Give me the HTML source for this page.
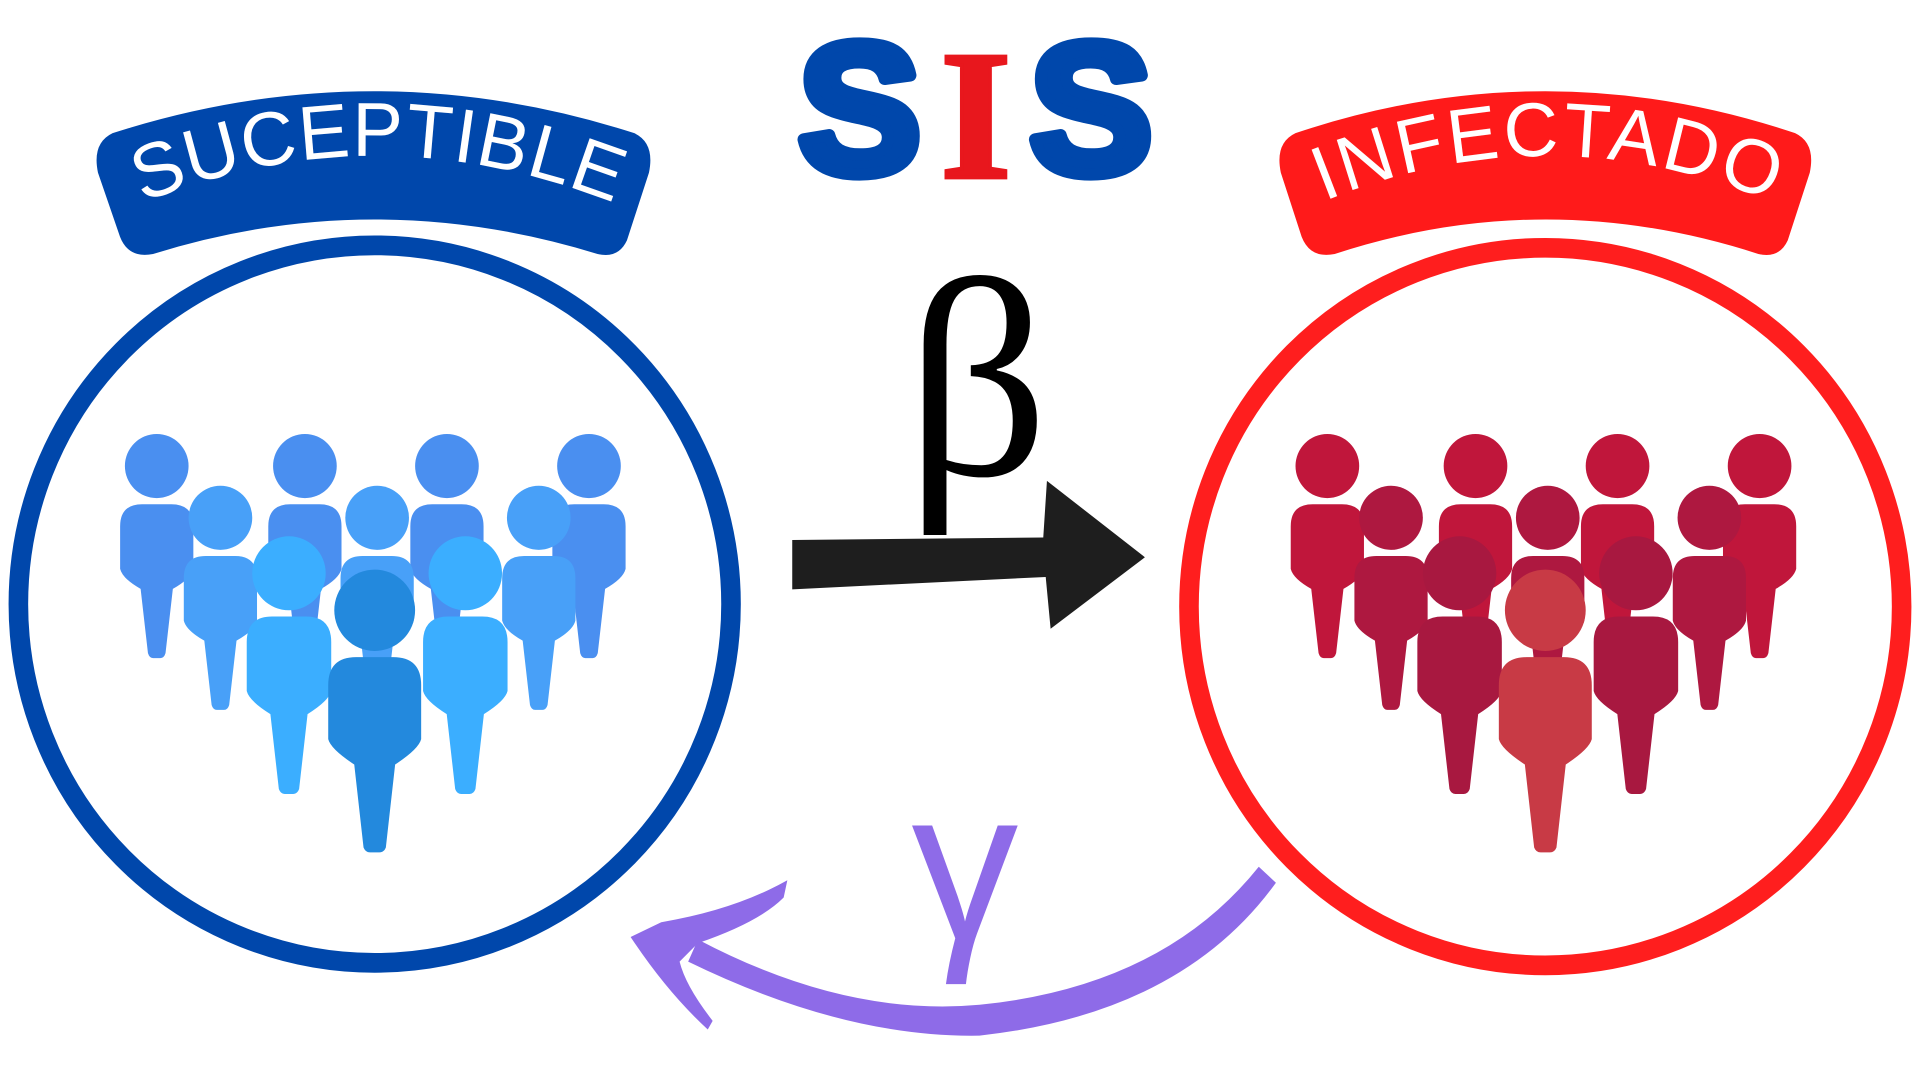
<!DOCTYPE html>
<html><head><meta charset="utf-8"><style>
html,body{margin:0;padding:0;background:#fff;width:1920px;height:1080px;overflow:hidden}
svg{display:block}
</style></head><body>
<svg id="root" width="1920" height="1080" viewBox="0 0 1568 876" preserveAspectRatio="none" xmlns="http://www.w3.org/2000/svg">
<defs>
<path id="arcL" d="M108,168 Q305,85 510,168"/>
<path id="arcR" d="M1070,168 Q1262,85 1458,168"/>
</defs>
<rect width="1568" height="876" fill="#fff"/>
<g font-family="'Liberation Sans',sans-serif" font-weight="900" font-size="150">
<text x="702" y="140" text-anchor="middle" fill="#0047AB" stroke="#0047AB" stroke-width="10" stroke-linejoin="round">S</text>
<text x="797" y="144" text-anchor="middle" fill="#E8171D" font-family="'Liberation Serif',serif" stroke="#E8171D" stroke-width="3">I</text>
<text x="891" y="140" text-anchor="middle" fill="#0047AB" stroke="#0047AB" stroke-width="10" stroke-linejoin="round">S</text>
</g>
<g>
<path d="M92,108 Q305,40 518,108 Q535,116 530,140 L512,195 Q505,210 488,206 Q305,150 125,206 Q105,210 98,192 L80,140 Q75,116 92,108Z" fill="#0047AB"/>
<text font-family="'Liberation Sans',sans-serif" font-size="62" fill="#fff"><textPath href="#arcL" startOffset="50%" text-anchor="middle" textLength="395">SUCEPTIBLE</textPath></text>
</g>
<g>
<path d="M1058,108 Q1262,40 1466,108 Q1483,116 1478,140 L1460,195 Q1453,210 1436,206 Q1262,150 1090,206 Q1070,210 1063,192 L1046,140 Q1041,116 1058,108Z" fill="#FF1A1A"/>
<text font-family="'Liberation Sans',sans-serif" font-size="62" fill="#fff"><textPath href="#arcR" startOffset="50%" text-anchor="middle" textLength="375">INFECTADO</textPath></text>
</g>
<circle cx="306" cy="490" r="291" fill="none" stroke="#0047AB" stroke-width="16"/>
<circle cx="1262" cy="492" r="291" fill="none" stroke="#FF1E1E" stroke-width="16"/>
<g id="peopleS"></g>
<g id="peopleI"></g>
<text x="798" y="385" text-anchor="middle" font-family="'Liberation Serif',serif" font-size="230" fill="#000">β</text>
<path d="M647,438 L852,436 L855,390 L935,452 L858,510 L854,468 L647,478Z" fill="#1E1E1E"/>
<text x="788" y="762" text-anchor="middle" font-family="'Liberation Sans',sans-serif" font-size="175" fill="#8E6BE8">γ</text>
<g fill="#8E6BE8">
<path d="M1028,703 Q950,800 800,815 Q690,825 570,762 L562,780 Q690,842 800,840 Q965,822 1042,716Z"/>
<path d="M643,714 Q600,738 540,748 L515,760 Q545,805 578,835 L582,828 Q560,800 555,780 L570,765 Q620,748 640,728Z"/>
</g>
</svg>
<script>
var headX=[128,249,365,481,180,308,440,236,380,306];
var headY=[378,378,378,378,420,420,420,465,465,495];
var rows=[0,0,0,0,1,1,1,2,2,3];
var colS=['#4A8FF0','#48A0F8','#3BAEFF','#2389DD'];
var colI=['#C0163B','#AE1840','#A81840','#C83A45'];
var NS='http://www.w3.org/2000/svg';
function person(g,cx,cy,r,col,dx){
  var x=cx+dx, w=r*2.3, top=cy+r+5, h=r*4.8;
  var b=document.createElementNS(NS,'path');
  var l=x-w/2, rr=x+w/2, k=w*0.3;
  var mid=top+h*0.42, low=top+h*0.55, bot=top+h;
  b.setAttribute('d','M'+(l+k)+','+top+' L'+(rr-k)+','+top+' Q'+rr+','+top+' '+rr+','+(top+k)+' L'+rr+','+mid+' Q'+(rr-2)+','+(mid+8)+' '+(x+w*0.22)+','+low+' L'+(x+w*0.12)+','+(bot-4)+' Q'+(x+w*0.1)+','+bot+' '+(x+w*0.05)+','+bot+' L'+(x-w*0.05)+','+bot+' Q'+(x-w*0.1)+','+bot+' '+(x-w*0.12)+','+(bot-4)+' L'+(x-w*0.22)+','+low+' Q'+(l+2)+','+(mid+8)+' '+l+','+mid+' L'+l+','+(top+k)+' Q'+l+','+top+' '+(l+k)+','+top+'Z');
  b.setAttribute('fill',col);
  
  
  g.appendChild(b);
  var c=document.createElementNS(NS,'circle');
  c.setAttribute('cx',x);c.setAttribute('cy',cy);c.setAttribute('r',r);c.setAttribute('fill',col);
  
  
  g.appendChild(c);
}
var gS=document.getElementById('peopleS'), gI=document.getElementById('peopleI');
for(var i=0;i<headX.length;i++){
  var r=rows[i]===3?33:(rows[i]===2?30:26);
  person(gS,headX[i],headY[i],r,colS[rows[i]],0);
  person(gI,headX[i],headY[i],r,colI[rows[i]],956);
}
</script>
</body></html>
